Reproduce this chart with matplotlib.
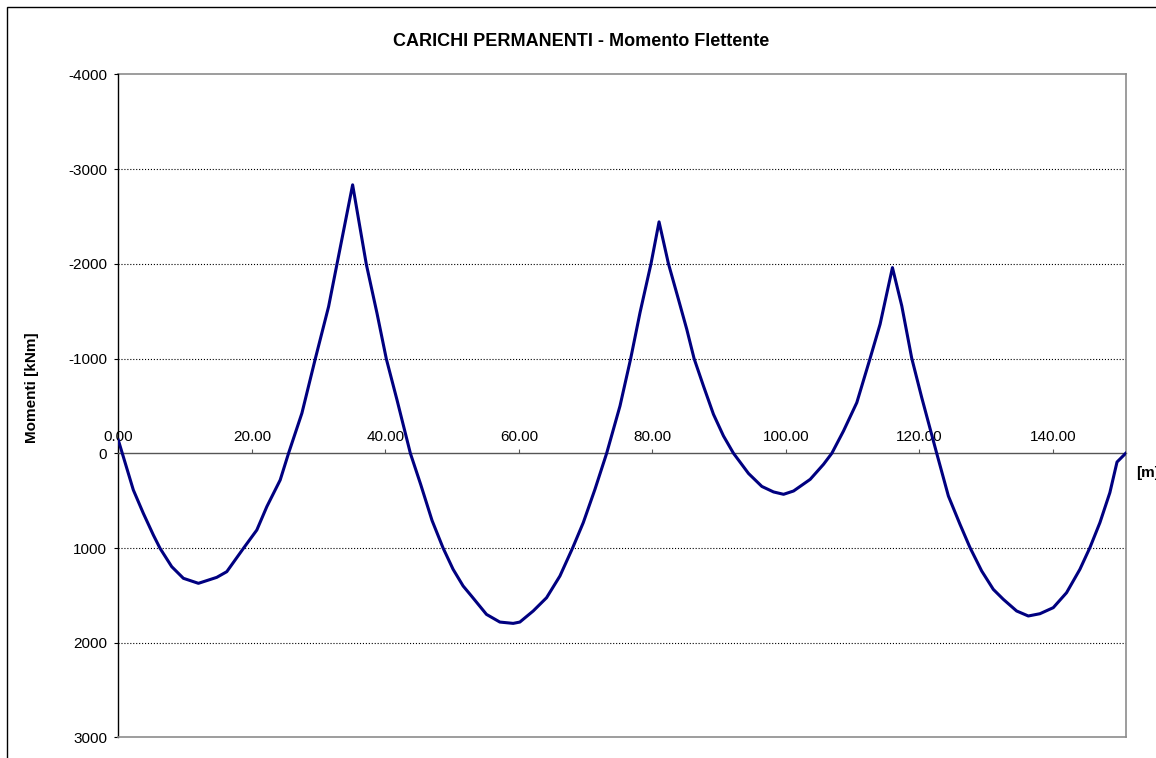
import numpy as np
import matplotlib
matplotlib.use("Agg")
import matplotlib.pyplot as plt
from matplotlib.patches import Rectangle
from matplotlib.ticker import FormatStrFormatter

plt.rcParams['font.family'] = ['Liberation Sans', 'DejaVu Sans']
plt.rcParams['axes.unicode_minus'] = False

# Momento flettente per carichi permanenti lungo l'impalcato
ascissa_m = [0.0, 2.25, 3.75, 5.25, 6.25, 8.0, 9.75, 12.0, 14.75, 16.25,
             18.75, 20.75, 22.25, 24.25, 25.5, 27.5, 29.5, 31.5, 32.75, 35.1,
             37.15, 38.75, 40.15, 41.75, 43.75, 45.3, 47.0, 48.65, 50.15, 51.65,
             52.9, 55.15, 57.15, 59.15, 60.15, 62.15, 64.15, 66.15, 68.05, 69.65,
             71.4, 73.15, 75.15, 76.75, 78.15, 79.8, 81.0, 82.4, 83.9, 85.15,
             86.25, 87.65, 89.15, 90.65, 92.15, 94.4, 96.4, 98.15, 99.65, 101.15,
             103.64, 105.64, 106.88, 108.63, 110.62, 112.62, 114.11, 115.96, 117.36, 118.85,
             120.35, 122.59, 124.34, 126.08, 127.58, 129.33, 131.07, 132.57, 134.56, 136.31,
             138.05, 140.05, 142.04, 144.04, 145.54, 147.04, 148.53, 149.6, 150.9]
momento_kNm = [-140, 387, 634, 863, 1003, 1197, 1320, 1373, 1310, 1250,
               1003, 810, 563, 282, 0, -423, -996, -1549, -1996, -2835,
               -1996, -1479, -996, -563, 0, 330, 710, 1000, 1225, 1401,
               1507, 1701, 1782, 1796, 1782, 1665, 1525, 1296, 1000, 732,
               380, 0, -500, -1000, -1486, -2004, -2444, -2004, -1627, -1310,
               -1000, -711, -412, -183, 0, 213, 350, 408, 433, 398,
               275, 116, 0, -236, -535, -1004, -1363, -1961, -1556, -1004,
               -588, 0, 451, 750, 996, 1243, 1437, 1542, 1665, 1718,
               1694, 1630, 1472, 1225, 996, 732, 415, 92, 0]

x_ticks = [0, 20, 40, 60, 80, 100, 120, 140]
y_ticks = [-4000, -3000, -2000, -1000, 0, 1000, 2000, 3000]

W, H = 1156, 758
fig = plt.figure(figsize=(W / 100, H / 100), dpi=100)

# cornice esterna del grafico
fig.patches.append(Rectangle((7 / W, -0.1), 1.2, (H - 7) / H + 0.1,
                             transform=fig.transFigure, fill=False,
                             edgecolor='black', linewidth=1.0))

ax = fig.add_axes([118.3 / W, (H - 737.4) / H, (1125.7 - 118.3) / W, (737.4 - 74.5) / H])

# griglia orizzontale
for yv in y_ticks[1:-1]:
    if yv != 0:
        ax.axhline(yv, color='black', linestyle=':', linewidth=0.8, zorder=1)
ax.axhline(-4000, color='#8c8c8c', linewidth=1.2, clip_on=False, zorder=1)

ax.plot(ascissa_m, momento_kNm, color='#000080', linewidth=2.2, zorder=3,
        solid_joinstyle='round')

ax.set_xlim(0, ascissa_m[-1])
ax.set_ylim(3000, -4000)

# asse x sullo zero, etichette sopra
ax.spines['top'].set_position(('data', 0))
ax.spines['top'].set_color('#555555')
ax.spines['top'].set_linewidth(1.0)
ax.spines['bottom'].set_color('#8c8c8c')
ax.spines['bottom'].set_linewidth(1.2)
ax.spines['right'].set_color('#8c8c8c')
ax.spines['right'].set_linewidth(1.2)
ax.spines['left'].set_color('black')
ax.spines['left'].set_linewidth(1.0)

ax.xaxis.tick_top()
ax.set_xticks(x_ticks)
ax.xaxis.set_major_formatter(FormatStrFormatter('%.2f'))
ax.tick_params(axis='x', direction='out', length=3, width=0.8, color='#555555',
               pad=4, labelsize=11)
ax.set_yticks(y_ticks)
ax.tick_params(axis='y', direction='out', length=3, width=0.8, pad=5, labelsize=11)

fig.text(581 / W, 1 - 42 / H, 'CARICHI PERMANENTI - Momento Flettente',
         ha='center', va='center', fontsize=13, fontweight='bold')
fig.text(32 / W, 1 - 388 / H, 'Momenti [kNm]', rotation=90,
         ha='center', va='center', fontsize=11, fontweight='bold')
fig.text(1136 / W, 1 - 473 / H, '[m]', ha='left', va='center',
         fontsize=11, fontweight='bold')

fig.savefig('out.png', dpi=100)
